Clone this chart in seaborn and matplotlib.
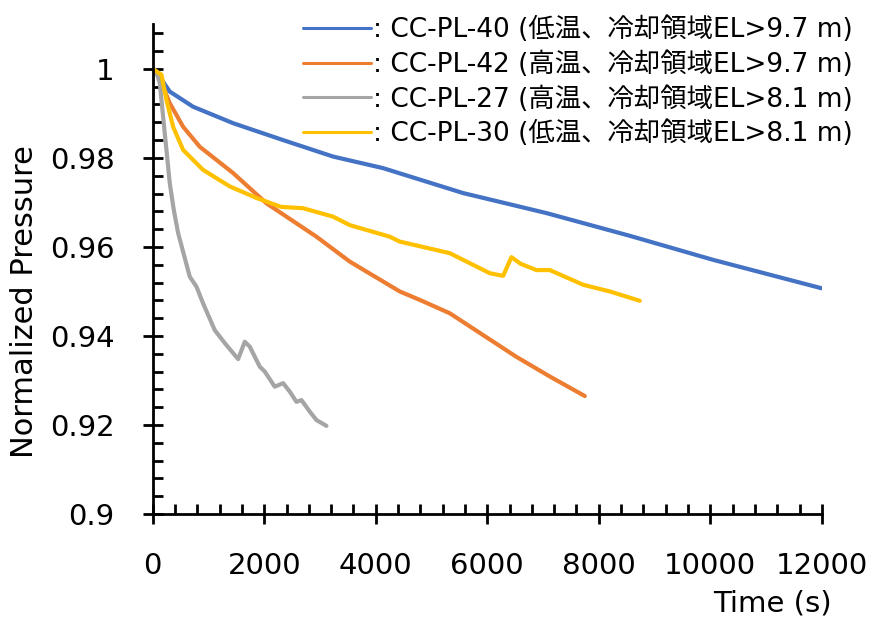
import numpy as np
import pandas as pd
import matplotlib
matplotlib.use("Agg")
import matplotlib.pyplot as plt
from matplotlib.ticker import MultipleLocator
import seaborn as sns

# ---- data ----
labels = [": CC-PL-40 (低温、冷却領域EL>9.7 m)",
          ": CC-PL-42 (高温、冷却領域EL>9.7 m)",
          ": CC-PL-27 (高温、冷却領域EL>8.1 m)",
          ": CC-PL-30 (低温、冷却領域EL>8.1 m)"]

t40 = [0, 185, 305, 723, 1441, 2338, 3235, 4131, 5567, 7062, 8556, 10050, 12000]
p40 = [1.0, 0.9971, 0.9949, 0.9915, 0.9878, 0.9840, 0.9803, 0.9777, 0.9721, 0.9676, 0.9625, 0.9571, 0.9507]

t42 = [0, 100, 305, 544, 843, 1441, 2039, 2936, 3534, 4430, 4789, 5327, 5925, 6523, 7121, 7749]
p42 = [1.0, 0.9985, 0.9923, 0.9870, 0.9825, 0.9766, 0.9698, 0.9623, 0.9567, 0.9500, 0.9481, 0.9451, 0.9402, 0.9353, 0.9309, 0.9265]

t27 = [0, 60, 126, 185, 245, 305, 377, 455, 664, 783, 903, 1112, 1291, 1531, 1650, 1740, 1919, 2009, 2188, 2338, 2457, 2577, 2667, 2816, 2936, 3115]
p27 = [1.0, 0.9995, 0.9968, 0.9893, 0.9818, 0.9743, 0.9683, 0.9631, 0.9533, 0.9511, 0.9473, 0.9413, 0.9384, 0.9348, 0.9387, 0.9376, 0.9331, 0.9320, 0.9286, 0.9294, 0.9275, 0.9252, 0.9256, 0.9230, 0.9211, 0.9198]

t30 = [0, 155, 245, 365, 544, 903, 1381, 1860, 2300, 2696, 3234, 3534, 4251, 4430, 5327, 6045, 6284, 6433, 6600, 6882, 7121, 7719, 8197, 8735]
p30 = [1.0, 0.9987, 0.9930, 0.9870, 0.9818, 0.9773, 0.9736, 0.9710, 0.9690, 0.9687, 0.9668, 0.9649, 0.9623, 0.9612, 0.9586, 0.9541, 0.9535, 0.9577, 0.9562, 0.9548, 0.9548, 0.9515, 0.9500, 0.9479]

colors = ["#4472C4", "#ED7D31", "#A5A5A5", "#FFC000"]

frames = []
for lab, t, p in zip(labels, [t40, t42, t27, t30], [p40, p42, p27, p30]):
    frames.append(pd.DataFrame({"Time": t, "Pressure": p, "Series": lab}))
df = pd.concat(frames, ignore_index=True)

sns.set_style("white")
plt.rcParams["font.family"] = ["DejaVu Sans", "Noto Sans CJK JP"]
plt.rcParams["text.color"] = "black"
plt.rcParams["axes.labelcolor"] = "black"
plt.rcParams["xtick.color"] = "black"
plt.rcParams["ytick.color"] = "black"

fig = plt.figure(figsize=(8.78, 6.25), dpi=100)
ax = fig.add_axes([0.174, 0.1776, 0.762, 0.7834])

sns.lineplot(data=df, x="Time", y="Pressure", hue="Series", hue_order=labels,
             palette=colors, estimator=None, sort=False, linewidth=3.0,
             legend=False, ax=ax)

ax.set_xlim(0, 12000)
ax.set_ylim(0.9, 1.01)
ax.xaxis.set_major_locator(MultipleLocator(2000))
ax.xaxis.set_minor_locator(MultipleLocator(400))
ax.yaxis.set_major_locator(MultipleLocator(0.02))
ax.yaxis.set_minor_locator(MultipleLocator(0.004))
ax.set_yticks([0.9, 0.92, 0.94, 0.96, 0.98, 1.0])
ax.set_yticklabels(["0.9", "0.92", "0.94", "0.96", "0.98", "1"])

for s in ["top", "right"]:
    ax.spines[s].set_visible(False)
for s in ["left", "bottom"]:
    ax.spines[s].set_linewidth(2.0)
    ax.spines[s].set_color("black")

ax.tick_params(which="major", direction="inout", length=15, width=2.0,
               labelsize=21, pad=20, color="black", labelcolor="black",
               left=True, bottom=True)
ax.tick_params(which="minor", direction="in", length=7, width=2.0,
               color="black", left=True, bottom=True)

ax.set_xlabel("Time (s)", fontsize=21, ha="right", va="top")
ax.xaxis.set_label_coords(1.015, -0.155)
ax.set_ylabel("Normalized Pressure", fontsize=22)
ax.yaxis.set_label_coords(-0.17, 0.433)

handles = ax.get_lines()[:4]
fig.legend(handles, labels, loc="upper right", bbox_to_anchor=(0.983, 0.99),
           frameon=False, fontsize=19, handlelength=2.6, handletextpad=0.05,
           labelspacing=0.3, borderaxespad=0.0)
for h in fig.legends[0].get_lines():
    h.set_linewidth(2.2)

fig.savefig("out.png", dpi=100)
